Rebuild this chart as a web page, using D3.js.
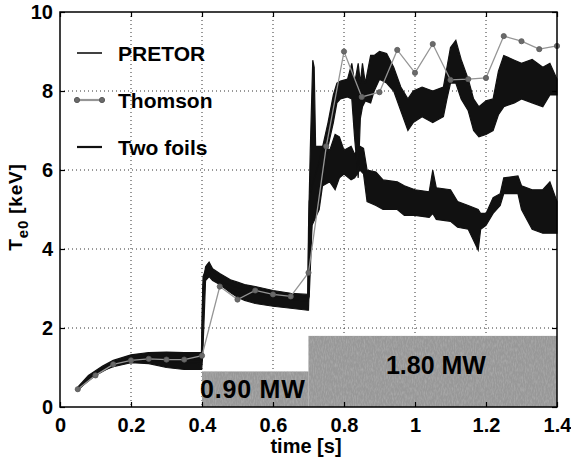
<!DOCTYPE html>
<html><head><meta charset="utf-8">
<script src="https://cdn.jsdelivr.net/npm/d3@7"></script>
<style>
body{margin:0;background:#fff;}
text{font-family:"Liberation Sans",Arial,sans-serif;font-weight:bold;fill:#000;}
</style></head>
<body><svg id="c" width="571" height="465"></svg>
<script>
// ---- data ----
const xTicks = [0, 0.2, 0.4, 0.6, 0.8, 1, 1.2, 1.4];
const xTickLabels = ["0", "0.2", "0.4", "0.6", "0.8", "1", "1.2", "1.4"];
const yTicks = [0, 2, 4, 6, 8, 10];
const yTickLabels = ["0", "2", "4", "6", "8", "10"];

const seriesNames = ["PRETOR", "Thomson", "Two foils"];

// Thomson scattering points
const thomsonT = [0.05,0.1,0.15,0.2,0.25,0.3,0.35,0.4,0.45,0.5,0.55,0.6,0.65,0.7,0.75,0.8,0.85,0.9,0.95,1.0,1.05,1.1,1.15,1.2,1.25,1.3,1.35,1.4];
const thomsonV = [0.45,0.8,1.08,1.18,1.22,1.2,1.2,1.3,3.05,2.72,2.95,2.85,2.8,3.4,6.6,9.0,7.85,7.97,9.04,8.46,9.19,8.28,8.3,8.33,9.39,9.26,9.06,9.14];

// PRETOR trace (lower after 0.7 s) – envelope of the fast oscillations
const pretorT  = [0.05,0.08,0.12,0.15,0.2,0.25,0.3,0.35,0.399,0.402,0.41,0.42,0.43,0.45,0.48,0.5,0.52,0.55,0.6,0.65,0.698,0.700,0.705,0.712,0.716,0.72,0.74,0.76,0.775,0.787,0.80,0.82,0.83,0.845,0.855,0.865,0.89,0.91,0.95,0.97,1.0,1.04,1.05,1.06,1.1,1.12,1.15,1.178,1.185,1.2,1.22,1.24,1.25,1.29,1.30,1.33,1.36,1.38,1.40];
const pretorLo = [0.42,0.68,0.92,1.02,1.12,1.1,1.0,0.95,0.95,1.3,3.2,3.3,3.2,3.1,2.9,2.78,2.7,2.62,2.55,2.5,2.45,2.45,4.0,5.0,5.5,5.5,5.6,5.7,5.5,5.8,5.9,5.75,5.8,6.0,5.9,5.2,5.1,5.0,5.0,4.85,4.85,4.8,4.9,4.75,4.7,4.55,4.5,3.97,4.5,4.6,4.9,5.1,5.4,5.4,5.0,4.5,4.4,4.4,4.4];
const pretorHi = [0.5,0.8,1.04,1.18,1.32,1.38,1.39,1.38,1.38,3.0,3.55,3.67,3.5,3.38,3.22,3.16,3.1,3.05,2.95,2.88,2.85,4.5,6.5,8.78,8.6,6.6,6.6,6.5,6.9,6.84,6.5,6.6,6.4,6.6,6.55,6.0,5.95,5.75,5.7,5.6,5.5,5.45,6.0,5.55,5.5,5.2,5.1,5.0,4.9,4.9,5.3,5.4,5.8,5.85,5.6,5.5,5.5,5.7,5.2];

// Two-foil trace (upper after 0.7 s) – envelope
const foilsT  = [0.05,0.1,0.15,0.2,0.25,0.3,0.35,0.398,0.403,0.415,0.43,0.46,0.49,0.51,0.53,0.56,0.6,0.65,0.698,0.702,0.71,0.73,0.755,0.77,0.78,0.79,0.81,0.822,0.83,0.84,0.846,0.852,0.86,0.875,0.885,0.9,0.92,0.94,0.96,0.98,0.995,1.02,1.05,1.08,1.09,1.1,1.115,1.13,1.15,1.165,1.18,1.2,1.22,1.235,1.25,1.28,1.3,1.33,1.36,1.38,1.4];
const foilsLo = [0.44,0.8,1.05,1.15,1.18,1.15,1.12,1.1,3.2,3.45,3.3,3.05,2.95,2.9,2.88,2.85,2.8,2.72,2.68,2.8,4.6,5.0,6.6,7.2,7.7,7.8,7.85,7.8,6.8,5.8,7.3,7.6,7.75,7.7,8.0,8.3,8.2,8.0,7.5,7.0,7.2,7.35,7.2,7.35,7.8,8.2,8.2,7.8,7.5,7.0,6.84,6.9,7.0,7.4,7.6,7.7,7.8,7.7,7.6,7.9,7.9];
const foilsHi = [0.48,0.86,1.12,1.22,1.25,1.22,1.2,1.2,3.3,3.6,3.42,3.15,3.05,3.0,2.98,2.95,2.9,2.82,2.78,5.2,5.6,6.2,7.2,7.9,8.2,8.25,8.3,8.7,8.2,8.7,8.2,8.7,8.2,8.9,8.9,9.0,8.95,8.6,8.1,7.8,8.0,8.1,8.0,8.1,8.6,9.1,9.28,8.8,8.3,7.8,7.6,7.75,7.8,8.5,8.9,8.78,8.7,8.8,8.6,8.7,8.3];

// ECH power steps
const powerStart = [0.4, 0.7];
const powerEnd   = [0.7, 1.4];
const powerMW    = [0.9, 1.8];
const powerLabels = ["0.90 MW", "1.80 MW"];

// ---- drawing ----
const svg = d3.select("#c");
const L = 60, R = 557, T = 12, B = 407;
const x = d3.scaleLinear().domain([0, 1.4]).range([L, R]);
const y = d3.scaleLinear().domain([0, 10]).range([B, T]);

// grid
const g = svg.append("g");
g.selectAll(".gx").data(xTicks.slice(1, -1)).join("line")
  .attr("x1", d => x(d)).attr("x2", d => x(d)).attr("y1", T).attr("y2", B)
  .attr("stroke", "#333").attr("stroke-width", 1).attr("stroke-dasharray", "1,3");
g.selectAll(".gy").data(yTicks.slice(1, -1)).join("line")
  .attr("y1", d => y(d)).attr("y2", d => y(d)).attr("x1", L).attr("x2", R)
  .attr("stroke", "#333").attr("stroke-width", 1).attr("stroke-dasharray", "1,3");

// power bars
const defs = svg.append("defs");
const f = defs.append("filter").attr("id", "grain").attr("x", 0).attr("y", 0).attr("width", 1).attr("height", 1);
f.append("feTurbulence").attr("type", "fractalNoise").attr("baseFrequency", "0.9 0.25").attr("numOctaves", 2).attr("seed", 3).attr("result", "n");
f.append("feColorMatrix").attr("in", "n").attr("type", "matrix")
  .attr("values", "0 0 0 0 0.42  0 0 0 0 0.42  0 0 0 0 0.42  0 0 0 -1.6 1.0").attr("result", "m");
f.append("feComposite").attr("in", "m").attr("in2", "SourceGraphic").attr("operator", "in").attr("result", "mm");
f.append("feMerge").selectAll("feMergeNode").data(["SourceGraphic", "mm"]).join("feMergeNode").attr("in", d => d);

const bars = powerMW.map((p, i) => ({s: powerStart[i], e: powerEnd[i], p}));
svg.append("g").selectAll("rect").data(bars).join("rect")
  .attr("x", d => x(d.s)).attr("width", d => x(d.e) - x(d.s))
  .attr("y", d => y(d.p)).attr("height", d => y(0) - y(d.p))
  .attr("fill", "#989898").attr("filter", "url(#grain)");

svg.append("text").attr("x", x(powerStart[0]) - 2).attr("y", y(0.23))
  .attr("font-size", 25).attr("letter-spacing", 0.8).text(powerLabels[0]);
svg.append("text").attr("x", x(0.918)).attr("y", y(0.84))
  .attr("font-size", 25).text(powerLabels[1]);

// traces
const area = d3.area().x(d => x(d.t)).y0(d => y(d.lo)).y1(d => y(d.hi));
[[pretorT, pretorLo, pretorHi], [foilsT, foilsLo, foilsHi]].forEach(([ts, lo, hi]) => {
  const pts = ts.map((t, i) => ({t, lo: lo[i], hi: hi[i]}));
  svg.append("path").datum(pts).attr("d", area).attr("fill", "#111").attr("stroke", "#111").attr("stroke-width", 1.2);
});

// Thomson
const th = thomsonT.map((t, i) => ({t, v: thomsonV[i]}));
svg.append("path").datum(th)
  .attr("d", d3.line().x(d => x(d.t)).y(d => y(d.v)))
  .attr("fill", "none").attr("stroke", "#959595").attr("stroke-width", 1.3);
svg.append("g").selectAll("circle").data(th).join("circle")
  .attr("cx", d => x(d.t)).attr("cy", d => y(d.v)).attr("r", 2.6)
  .attr("fill", "#6a6a6a").attr("stroke", "#5a5a5a").attr("stroke-width", 0.8);

// frame
svg.append("rect").attr("x", L).attr("y", T).attr("width", R - L).attr("height", B - T)
  .attr("fill", "none").attr("stroke", "#000").attr("stroke-width", 1.5);

// axes with inward ticks
const ax = d3.axisBottom(x).tickValues(xTicks).tickFormat((d, i) => xTickLabels[i]).tickSizeInner(-5).tickSizeOuter(0).tickPadding(11);
const ay = d3.axisLeft(y).tickValues(yTicks).tickFormat((d, i) => yTickLabels[i]).tickSizeInner(-5).tickSizeOuter(0).tickPadding(7);
const gx = svg.append("g").attr("transform", `translate(0,${B})`).call(ax);
const gy = svg.append("g").attr("transform", `translate(${L},0)`).call(ay);
svg.append("g").attr("transform", `translate(0,${T})`).call(d3.axisTop(x).tickValues(xTicks).tickFormat("").tickSizeInner(-5).tickSizeOuter(0));
svg.append("g").attr("transform", `translate(${R},0)`).call(d3.axisRight(y).tickValues(yTicks).tickFormat("").tickSizeInner(-5).tickSizeOuter(0));
svg.selectAll(".domain").remove();
svg.selectAll(".tick line").attr("stroke", "#000").attr("stroke-width", 1.2);
[gx, gy].forEach(a => a.selectAll("text").attr("font-size", 20).attr("font-family", "Liberation Sans, Arial, sans-serif").attr("font-weight", "bold").attr("fill", "#000"));

// axis titles
svg.append("text").attr("x", 306).attr("y", 453).attr("text-anchor", "middle").attr("font-size", 20).text("time [s]");
const yl = svg.append("text").attr("transform", "translate(22,207) rotate(-90)").attr("text-anchor", "middle").attr("font-size", 19).attr("letter-spacing", 0.8);
yl.append("tspan").text("T");
yl.append("tspan").attr("font-size", 15).attr("dy", 6).text("e0");
yl.append("tspan").attr("dy", -6).text(" [keV]");

// legend
const legY = [53, 100, 147];
const lg = svg.append("g");
seriesNames.forEach((n, i) => {
  lg.append("line").attr("x1", 77).attr("x2", 102).attr("y1", legY[i]).attr("y2", legY[i])
    .attr("stroke", i === 1 ? "#959595" : "#111").attr("stroke-width", i === 0 ? 1.6 : 2.2);
  if (i === 1) {
    [77, 102].forEach(cx => lg.append("circle").attr("cx", cx).attr("cy", legY[i]).attr("r", 2.6).attr("fill", "#6a6a6a").attr("stroke", "#5a5a5a"));
  }
  lg.append("text").attr("x", 118).attr("y", legY[i] + 8).attr("font-size", 21).text(n);
});
</script></body></html>
